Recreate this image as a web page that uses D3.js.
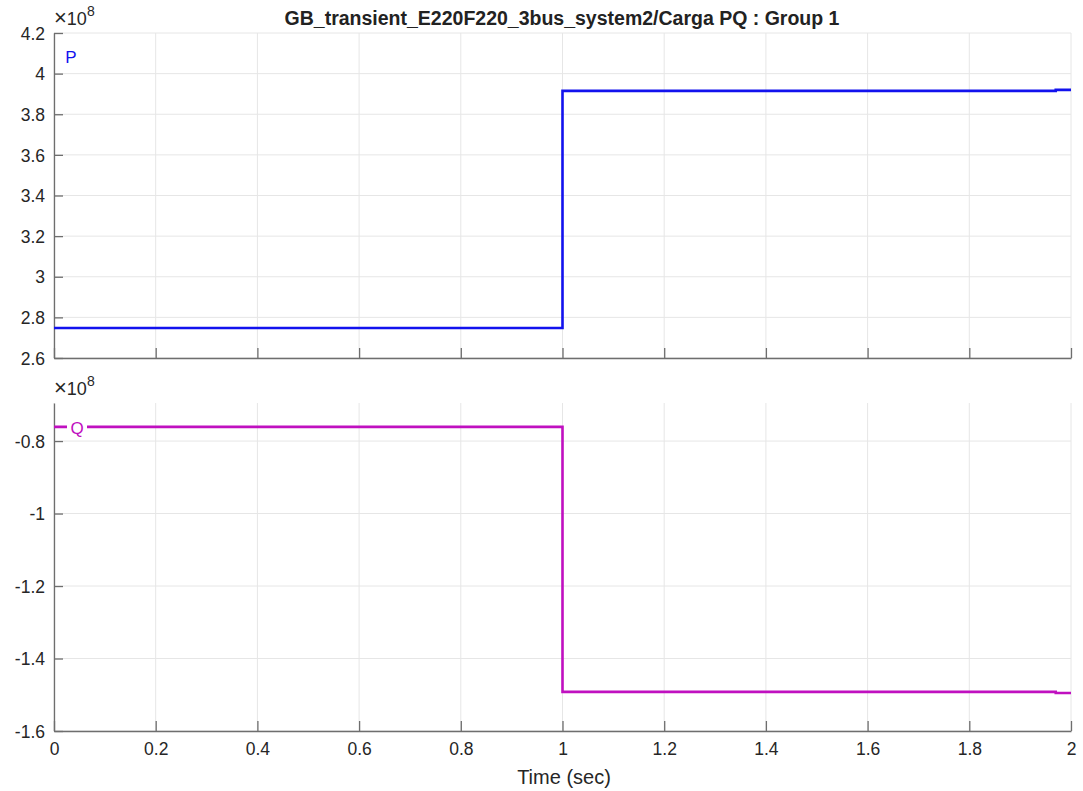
<!DOCTYPE html>
<html><head><meta charset="utf-8">
<script src="https://cdn.jsdelivr.net/npm/d3@7"></script>
<style>body{margin:0;background:#fff;} text{font-family:"Liberation Sans",Arial,sans-serif;}</style>
</head><body>
<svg id="c" width="1083" height="791"></svg>
<script>
const title = "GB_transient_E220F220_3bus_system2/Carga PQ : Group 1";
const time = [0, 1, 1, 1.97, 1.97, 2];
const pValues = [2.748, 2.748, 3.915, 3.915, 3.92, 3.92];
const qValues = [-0.761, -0.761, -1.492, -1.492, -1.495, -1.495];
const xTicks = [0, 0.2, 0.4, 0.6, 0.8, 1, 1.2, 1.4, 1.6, 1.8, 2];
const pTicks = [2.6, 2.8, 3, 3.2, 3.4, 3.6, 3.8, 4, 4.2];
const qTicks = [-1.6, -1.4, -1.2, -1, -0.8];
const pDomain = [2.6, 4.2];
const qDomain = [-1.6, -0.695];

const svg = d3.select("#c");
const L = 54, R = 1071;
const x = d3.scaleLinear().domain([0, 2]).range([L, R]);

svg.append("text").attr("x", 562).attr("y", 25).attr("text-anchor", "middle")
  .attr("font-size", 19.5).attr("font-weight", "bold").attr("fill", "#222").text(title);

function panel(top, bottom, domain, ticks, vals, color, name, labelX, labelY, labelBg, showX) {
  const y = d3.scaleLinear().domain(domain).range([bottom, top]);
  const g = svg.append("g");
  g.selectAll(".gx").data(xTicks).enter().append("line")
    .attr("x1", d => x(d)).attr("x2", d => x(d)).attr("y1", top).attr("y2", bottom)
    .attr("stroke", "#e6e6e6").attr("stroke-width", 1);
  g.selectAll(".gy").data(ticks).enter().append("line")
    .attr("x1", L).attr("x2", R).attr("y1", d => y(d)).attr("y2", d => y(d))
    .attr("stroke", "#e6e6e6").attr("stroke-width", 1);
  const ax = g.append("g").attr("transform", `translate(0,${bottom})`)
    .call(d3.axisBottom(x).tickValues(xTicks).tickSizeInner(-10).tickSizeOuter(0)
      .tickFormat(d => showX ? String(d) : ""));
  const ay = g.append("g").attr("transform", `translate(${L},0)`)
    .call(d3.axisLeft(y).tickValues(ticks).tickSizeInner(-9).tickSizeOuter(0).tickFormat(d => String(d)));
  [ax, ay].forEach(a => {
    a.select(".domain").attr("stroke", "#6e6e6e").attr("stroke-width", 1.3);
    a.selectAll(".tick line").attr("stroke", "#6e6e6e").attr("stroke-width", 1.3);
    a.selectAll(".tick text").attr("fill", "#262626").attr("font-size", 17.5)
      .attr("font-family", "Liberation Sans, Arial, sans-serif");
  });
  ax.selectAll(".tick text").attr("dy", "1.05em").attr("y", 6);
  ay.selectAll(".tick text").attr("x", -9).attr("dy", "0.35em");
  const ex = g.append("text").attr("x", L).attr("y", top - 8).attr("font-size", 18).attr("fill", "#262626");
  ex.append("tspan").attr("font-size", 22).text("\u00d7");
  ex.append("tspan").text("10");
  ex.append("tspan").attr("font-size", 14).attr("dy", -9).text("8");
  const line = d3.line().x((d, i) => x(time[i])).y(d => y(d));
  g.append("path").datum(vals).attr("d", line).attr("fill", "none")
    .attr("stroke", color).attr("stroke-width", 2.6).attr("stroke-linejoin", "miter");
  if (labelBg) {
    g.append("rect").attr("x", labelX - 10).attr("y", labelY - 10).attr("width", 20).attr("height", 20).attr("fill", "#fff");
  }
  g.append("text").attr("x", labelX).attr("y", labelY).attr("dy", "0.35em").attr("text-anchor", "middle")
    .attr("font-size", 17).attr("fill", color).text(name);
}

panel(33, 358, pDomain, pTicks, pValues, "#1212ee", "P", 71, 57, false, false);
panel(403, 731, qDomain, qTicks, qValues, "#c010c0", "Q", 77, 428, true, true);

svg.append("text").attr("x", 564).attr("y", 784).attr("text-anchor", "middle")
  .attr("font-size", 20).attr("fill", "#262626").text("Time (sec)");
</script>
</body></html>
